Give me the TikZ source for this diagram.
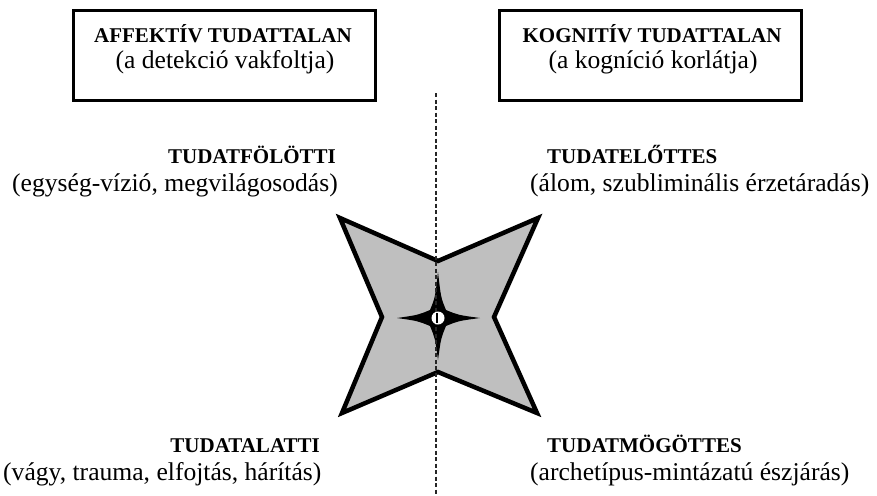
\documentclass[tikz,border=0pt]{standalone}
\usepackage{fontspec}
\setmainfont{Liberation Serif}
\begin{document}
\begin{tikzpicture}[x=1pt,y=-1pt,
  lbl/.style={inner sep=0pt,font=\fontsize{25.6}{30}\selectfont},
  head/.style={inner sep=0pt,font=\fontsize{21}{26}\selectfont\bfseries},
  boxframe/.style={draw=black,line width=3pt},
  bigstar/.style={draw=black,fill=black!25,line width=4.5pt,line join=miter},
  midline/.style={dash pattern=on 4pt off 2.5pt,line width=1.4pt,black!85}]
\useasboundingbox (0,0) rectangle (877,495);
% boxes
\draw[boxframe] (73,11) rectangle (375,100);
\draw[boxframe] (499,11) rectangle (801,100);
\node[head,anchor=base] (ah) at (223,43) {AFFEKTÍV TUDATTALAN};
\node[lbl,anchor=base] (as) at (225,68) {(a detekció vakfoltja)};
\node[head,anchor=base] (kh) at (652,43) {KOGNITÍV TUDATTALAN};
\node[lbl,anchor=base] (ks) at (653,68) {(a kogníció korlátja)};
% big star
\draw[bigstar] (340,218) -- (438,261) -- (538,218) -- (494,317) -- (537,413) -- (438,372) -- (342,413) -- (382,317) -- cycle;
% small star
\fill[black] (438,272) .. controls (441,298) .. (446,310) .. controls (458,315) .. (480,318) .. controls (458,321) .. (446,326) .. controls (441,338) .. (438,360) .. controls (435,338) .. (430,326) .. controls (418,321) .. (397,318) .. controls (418,315) .. (430,310) .. controls (435,298) .. cycle;
% dashed middle line
\coordinate (ltop) at (436,93);
\coordinate (lbot) at (436,495);
\draw[midline] (ltop) -- (lbot);
\node[circle,fill=white,minimum size=13pt,inner sep=0pt] (ctr) at (438,318) {};
\draw[line width=1.2pt] (437,313) -- (437,323);
% labels
\node[head,anchor=base east] (f1) at (336,163) {TUDATFÖLÖTTI};
\node[lbl,anchor=base west] (f2) at (12,191) {(egység-vízió, megvilágosodás)};
\node[head,anchor=base west] (e1) at (547,163) {TUDATELŐTTES};
\node[lbl,anchor=base west] (e2) at (530,191) {(álom, szubliminális érzetáradás)};
\node[head,anchor=base east] (a1) at (320,452) {TUDATALATTI};
\node[lbl,anchor=base west] (a2) at (3,480) {(vágy, trauma, elfojtás, hárítás)};
\node[head,anchor=base west] (m1) at (547,452) {TUDATMÖGÖTTES};
\node[lbl,anchor=base west] (m2) at (530,480) {(archetípus-mintázatú észjárás)};
\end{tikzpicture}
\end{document}
